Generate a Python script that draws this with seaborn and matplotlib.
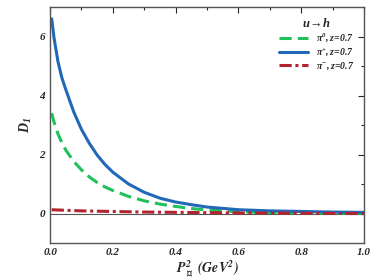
import numpy as np
import pandas as pd
import matplotlib
matplotlib.use('Agg')
import matplotlib.pyplot as plt
import seaborn as sns
from matplotlib.ticker import MultipleLocator, FormatStrFormatter

# valores
p2 = [0.005, 0.0125, 0.025, 0.0375, 0.05, 0.075, 0.1, 0.125, 0.15, 0.175, 0.2,
      0.25, 0.3, 0.35, 0.4, 0.45, 0.5, 0.6, 0.7, 0.8, 0.9, 1.0]
d1_pi0 = [3.4, 3.1, 2.7, 2.4, 2.15, 1.77, 1.48, 1.24, 1.05, 0.9, 0.78,
          0.58, 0.43, 0.32, 0.24, 0.17, 0.12, 0.06, 0.03, 0.02, 0.01, 0.0]
d1_pip = [6.6, 5.95, 5.15, 4.6, 4.2, 3.45, 2.85, 2.38, 1.98, 1.66, 1.4,
          1.0, 0.72, 0.52, 0.39, 0.3, 0.22, 0.13, 0.09, 0.07, 0.05, 0.04]
d1_pim = [0.13, 0.125, 0.12, 0.115, 0.11, 0.1, 0.09, 0.085, 0.08, 0.075, 0.07,
          0.06, 0.05, 0.045, 0.04, 0.035, 0.03, 0.02, 0.015, 0.01, 0.005, 0.0]
labels = [r'$\pi^{0}, z\!=\!0.7$', r'$\pi^{+}, z\!=\!0.7$', r'$\pi^{-}, z\!=\!0.7$']

df = pd.DataFrame({
    'x': p2 * 3,
    'y': d1_pi0 + d1_pip + d1_pim,
    'serie': [labels[0]] * len(p2) + [labels[1]] * len(p2) + [labels[2]] * len(p2),
})

sns.set_theme(style='white')
plt.rcParams['font.family'] = ['Liberation Serif', 'DejaVu Serif']
plt.rcParams['font.weight'] = 'bold'
plt.rcParams['font.style'] = 'italic'
plt.rcParams['mathtext.fontset'] = 'custom'
plt.rcParams['mathtext.it'] = 'Liberation Serif:italic:bold'
plt.rcParams['mathtext.rm'] = 'Liberation Serif:italic:bold'
plt.rcParams['mathtext.bf'] = 'Liberation Serif:italic:bold'

fig, ax = plt.subplots(figsize=(3.74, 2.8), dpi=100)
fig.subplots_adjust(left=0.134, right=0.973, top=0.975, bottom=0.132)

cores = {labels[0]: '#1fc15a', labels[1]: '#2268b8', labels[2]: '#b3222f'}
estilos = {labels[0]: (4, 2), labels[1]: '', labels[2]: (4, 1.2, 1, 1.2)}
sns.lineplot(data=df, x='x', y='y', hue='serie', style='serie', palette=cores,
             dashes=estilos, linewidth=2.2, ax=ax)

ax.axhline(0, color='#555555', linewidth=0.8, zorder=0)
ax.set_xlim(0, 1.0)
ax.set_ylim(-1, 7)
ax.xaxis.set_major_locator(MultipleLocator(0.2))
ax.xaxis.set_minor_locator(MultipleLocator(0.1))
ax.yaxis.set_major_locator(MultipleLocator(2))
ax.yaxis.set_minor_locator(MultipleLocator(1))
ax.xaxis.set_major_formatter(FormatStrFormatter('%.1f'))
ax.yaxis.set_major_formatter(FormatStrFormatter('%d'))
ax.tick_params(which='both', direction='in', top=True, right=True, labelsize=8, width=0.8)
ax.tick_params(which='major', length=4)
ax.tick_params(which='minor', length=2)
for s in ax.spines.values():
    s.set_color('#555555')
    s.set_linewidth(1)

ax.set_xlabel(r'$\mathbfit{P}_{\perp}^{\mathbf{2}}\ \mathbf{(}\mathbfit{GeV}^{\mathbf{2}}\mathbf{)}$',
              fontsize=10, labelpad=1, math_fontfamily='stix')
ax.set_ylabel(r'$D_{1}$', fontsize=10, labelpad=4)

leg = ax.legend(title=r'$u\!\rightarrow\! h$', loc='upper right', frameon=False,
                fontsize=7, title_fontsize=9, handlelength=3, borderaxespad=0.6,
                labelspacing=0.2)

plt.savefig('out.png', dpi=100)
